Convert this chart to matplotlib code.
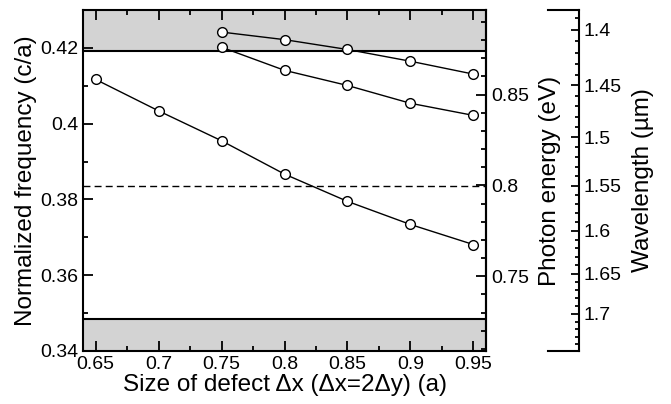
import matplotlib
matplotlib.use('Agg')
import matplotlib.pyplot as plt
from matplotlib.ticker import MultipleLocator
import numpy as np

plt.rcParams['font.family'] = ['Liberation Sans', 'DejaVu Sans']

# data
x_low = [0.65, 0.70, 0.75, 0.80, 0.85, 0.90, 0.95]
f_low = [0.4117, 0.4034, 0.3955, 0.3867, 0.3795, 0.3734, 0.3681]
x_up = [0.75, 0.80, 0.85, 0.90, 0.95]
f_mid = [0.4202, 0.4141, 0.4101, 0.4054, 0.4022]
f_top = [0.4242, 0.4222, 0.4196, 0.4165, 0.4131]

gap_bottom = 0.3484   # lower band edge
gap_top = 0.4191      # upper band edge
lam_target = 1.55     # um, dashed line
a_um = 0.5947         # lattice constant (um)
hc = 1.23984          # eV*um

x_ticks = [0.65, 0.7, 0.75, 0.8, 0.85, 0.9, 0.95]
x_ticklabels = ['0.65', '0.7', '0.75', '0.8', '0.85', '0.9', '0.95']
y_ticks = [0.34, 0.36, 0.38, 0.4, 0.42]
y_ticklabels = ['0.34', '0.36', '0.38', '0.4', '0.42']
e_ticks = [0.75, 0.8, 0.85]
e_ticklabels = ['0.75', '0.8', '0.85']
lam_ticks = [1.4, 1.45, 1.5, 1.55, 1.6, 1.65, 1.7]
lam_ticklabels = ['1.4', '1.45', '1.5', '1.55', '1.6', '1.65', '1.7']

fig = plt.figure(figsize=(6.71, 4.04), dpi=100)
ax = fig.add_axes([0.1237, 0.1312, 0.6006, 0.8438])
ax.set_xlim(0.64, 0.96)
ax.set_ylim(0.34, 0.43)

# band regions
ax.axhspan(gap_top, 0.43, color='#d3d3d3', lw=0, zorder=0)
ax.axhspan(0.34, gap_bottom, color='#d3d3d3', lw=0, zorder=0)
ax.axhline(gap_top, color='k', lw=1.5, zorder=1)
ax.axhline(gap_bottom, color='k', lw=1.5, zorder=1)
ax.axhline(a_um / lam_target, color='k', lw=1, linestyle=(0, (5, 3)), zorder=1)

mk = dict(color='k', lw=1, marker='o', markersize=7, markerfacecolor='white',
          markeredgecolor='k', markeredgewidth=1, zorder=3)
ax.plot(x_low, f_low, **mk)
ax.plot(x_up, f_mid, **mk)
ax.plot(x_up, f_top, **mk)

# ticks of main axes
ax.set_xticks(x_ticks)
ax.set_xticklabels(x_ticklabels)
ax.set_yticks(y_ticks)
ax.set_yticklabels(y_ticklabels)
ax.xaxis.set_minor_locator(MultipleLocator(0.025))
ax.yaxis.set_minor_locator(MultipleLocator(0.01))
ax.tick_params(which='both', direction='in', top=True, right=False, labelsize=14, width=1.3)
ax.tick_params(which='major', length=7)
ax.tick_params(which='minor', length=3.5)
for s in ax.spines.values():
    s.set_linewidth(1.5)

ax.set_xlabel('Size of defect \u0394x (\u0394x=2\u0394y) (a)', fontsize=17.5, labelpad=1)
ax.set_ylabel('Normalized frequency (c/a)', fontsize=17.5, labelpad=2)

# photon energy axis
def f2e(f):
    return hc * np.asarray(f) / a_um

def e2f(e):
    return np.asarray(e) * a_um / hc

sec_e = ax.secondary_yaxis('right', functions=(f2e, e2f))
sec_e.set_yticks(e_ticks)
sec_e.set_yticklabels(e_ticklabels)
sec_e.yaxis.set_minor_locator(MultipleLocator(0.01))
sec_e.tick_params(which='both', direction='in', labelsize=14, width=1.3)
sec_e.tick_params(which='major', length=7)
sec_e.tick_params(which='minor', length=3.5)
sec_e.spines['right'].set_linewidth(1.5)
sec_e.set_ylabel('Photon energy (eV)', fontsize=17.5, labelpad=7.5)

# wavelength axis
def f2lam(f):
    f = np.asarray(f, dtype=float)
    return a_um / np.where(f == 0, 1e-9, f)

def lam2f(lam):
    lam = np.asarray(lam, dtype=float)
    return a_um / np.where(lam == 0, 1e-9, lam)

sec_l = ax.secondary_yaxis(1.2308, functions=(f2lam, lam2f))
sec_l.set_yticks(lam_ticks)
sec_l.set_yticklabels(lam_ticklabels)
sec_l.yaxis.set_minor_locator(MultipleLocator(0.01))
sec_l.tick_params(which='both', direction='in', labelsize=14, width=1.3)
sec_l.tick_params(which='major', length=6)
sec_l.tick_params(which='minor', length=3)
sec_l.spines['right'].set_linewidth(1.5)
sec_l.set_ylabel('Wavelength (\u00b5m)', fontsize=17.5, labelpad=7)

# brackets at the ends of the wavelength axis
ax.plot([1.155, 1.2308], [1, 1], color='k', lw=1.5, transform=ax.transAxes, clip_on=False)
ax.plot([1.155, 1.2308], [0, 0], color='k', lw=1.5, transform=ax.transAxes, clip_on=False)

fig.savefig('out.png', dpi=100)
